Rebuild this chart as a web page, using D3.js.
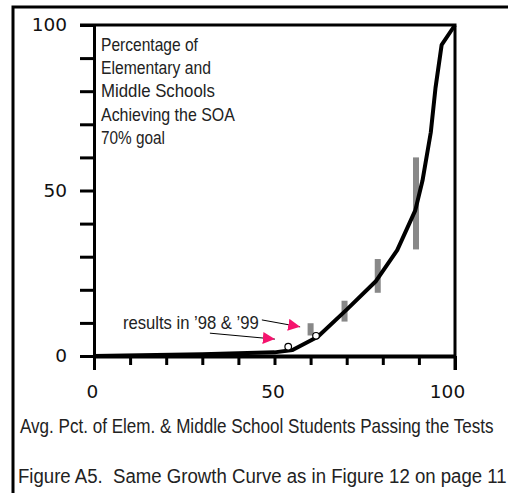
<!DOCTYPE html>
<html>
<head>
<meta charset="utf-8">
<script src="https://cdn.jsdelivr.net/npm/d3@7"></script>
<style>
  body { margin: 0; background: #fff; }
  svg { display: block; }
  .narrow { font-family: "Liberation Sans", Arial, sans-serif; fill: #222; white-space: pre; }
  .num { font-family: "DejaVu Sans", sans-serif; font-size: 18.5px; fill: #111; }
</style>
</head>
<body>
<div id="chart"></div>
<script>
// growth curve (x = avg pct passing, y = pct of schools at goal)
const curveX = [0, 30, 50, 55, 62, 70, 78, 84, 89, 91, 93.3, 94.6, 96.3, 100];
const curveY = [0, 0.5, 1.1, 1.8, 5.8, 14, 22.5, 32, 44, 53, 67.6, 81, 94, 100];

// observed ranges (grey bars)
const barX = [60, 69.4, 78.6, 89.2];
const barLo = [6.2, 10.4, 19.1, 32.2];
const barHi = [9.9, 16.7, 29.3, 60];

// results in '98 & '99
const dotX = [53.8, 61.5];
const dotY = [2.8, 6.1];

const xTicks = [0, 10, 20, 30, 40, 50, 60, 70, 80, 90, 100];
const yTicks = [0, 10, 20, 30, 40, 50, 60, 70, 80, 90, 100];
const labelTicks = [0, 50, 100];

const titleLines = ["Percentage of", "Elementary and", "Middle Schools", "Achieving the SOA", "70% goal"];
const titleWidths = [97, 110, 114, 134, 64];
const xTitle = "Avg. Pct. of Elem. & Middle School Students Passing the Tests";
const caption = "Figure A5.  Same Growth Curve as in Figure 12 on page 11";
const noteText = "results in \u201998 & \u201999";
// arrows in data units: [x0, y0, x1, y1]
const arrows = [[46.5, 10.9, 57.1, 8.8], [32.1, 6.9, 50.1, 5.1]];

const width = 508, height = 493;

const svg = d3.select("#chart").append("svg")
    .attr("width", width)
    .attr("height", height);

svg.append("rect").attr("width", width).attr("height", height).attr("fill", "#fff");

// narrow text: draw at (0,0), then squeeze horizontally to the wanted width
function narrowText(str, px, py, size, w) {
    const t = svg.append("text")
        .attr("class", "narrow")
        .attr("font-size", size)
        .text(str);
    const k = w / t.node().getComputedTextLength();
    t.attr("transform", `translate(${px},${py}) scale(${k},1)`);
    return t;
}

// outer page frame
svg.append("path")
    .attr("d", "M13,493 L13,7 L508,7")
    .attr("fill", "none")
    .attr("stroke", "#000")
    .attr("stroke-width", 3);

const x = d3.scaleLinear().domain([0, 100]).range([94, 455]);
const y = d3.scaleLinear().domain([0, 100]).range([356, 25]);

// top and right plot border
svg.append("path")
    .attr("d", `M${x(0) - 14},${y(100)} L${x(100)},${y(100)} L${x(100)},${y(0) + 14}`)
    .attr("fill", "none")
    .attr("stroke", "#000")
    .attr("stroke-width", 3);

// y axis
const yAxis = svg.append("g")
    .attr("transform", `translate(${x(0)},0)`)
    .call(d3.axisLeft(y).tickValues(yTicks).tickSize(14).tickSizeOuter(0).tickPadding(13)
        .tickFormat(d => labelTicks.includes(d) ? d : ""));
yAxis.attr("font-size", null).attr("font-family", null);
yAxis.select(".domain").attr("stroke", "#000").attr("stroke-width", 3);
yAxis.selectAll(".tick line").attr("stroke", "#000").attr("stroke-width", 3);
yAxis.selectAll(".tick text").attr("class", "num");

// x axis
const xAxis = svg.append("g")
    .attr("transform", `translate(0,${y(0)})`)
    .call(d3.axisBottom(x).tickValues(xTicks).tickSize(9).tickSizeOuter(0).tickPadding(20)
        .tickFormat(d => labelTicks.includes(d) ? d : ""));
xAxis.attr("font-size", null).attr("font-family", null);
xAxis.select(".domain").attr("stroke", "#000").attr("stroke-width", 4);
xAxis.selectAll(".tick line").attr("stroke", "#000").attr("stroke-width", 3)
    .attr("y2", d => (d === 0 || d === 100) ? 14 : 9);
xAxis.selectAll(".tick text").attr("class", "num").attr("dy", "0.71em")
    .attr("dx", d => d === 100 ? -8 : -2);

// grey bars
svg.selectAll(".bar")
    .data(barX)
    .enter().append("rect")
    .attr("class", "bar")
    .attr("x", d => x(d) - 3)
    .attr("width", 6)
    .attr("y", (d, i) => y(barHi[i]))
    .attr("height", (d, i) => y(barLo[i]) - y(barHi[i]))
    .attr("fill", "#888");

// growth curve
const line = d3.line()
    .x(d => x(d[0]))
    .y(d => y(d[1]));
svg.append("path")
    .datum(curveX.map((v, i) => [v, curveY[i]]))
    .attr("d", line)
    .attr("fill", "none")
    .attr("stroke", "#000")
    .attr("stroke-width", 4)
    .attr("stroke-linejoin", "round");

// dots
svg.selectAll(".dot")
    .data(dotX)
    .enter().append("circle")
    .attr("cx", d => x(d))
    .attr("cy", (d, i) => y(dotY[i]))
    .attr("r", 3.3)
    .attr("fill", "#fff")
    .attr("stroke", "#000")
    .attr("stroke-width", 1.2);

// arrows
svg.append("defs").append("marker")
    .attr("id", "head")
    .attr("viewBox", "0 0 10 10")
    .attr("refX", 10).attr("refY", 5)
    .attr("markerWidth", 12).attr("markerHeight", 12)
    .attr("markerUnits", "userSpaceOnUse")
    .attr("orient", "auto")
    .append("path")
    .attr("d", "M0,0 L10,5 L0,10 Z")
    .attr("fill", "#f5146e");

arrows.forEach(a => {
    svg.append("line")
        .attr("x1", x(a[0])).attr("y1", y(a[1]))
        .attr("x2", x(a[2])).attr("y2", y(a[3]))
        .attr("stroke", "#000")
        .attr("stroke-width", 1)
        .attr("marker-end", "url(#head)");
});

narrowText(noteText, x(8), 329, 18.5, 136);

// inner title
titleLines.forEach((s, i) => narrowText(s, 101, 51 + i * 23.2, 18.5, titleWidths[i]));

// x axis title and caption
narrowText(xTitle, 20, 433, 19.5, 474);
narrowText(caption, 18, 483, 19.5, 489);
</script>
</body>
</html>
